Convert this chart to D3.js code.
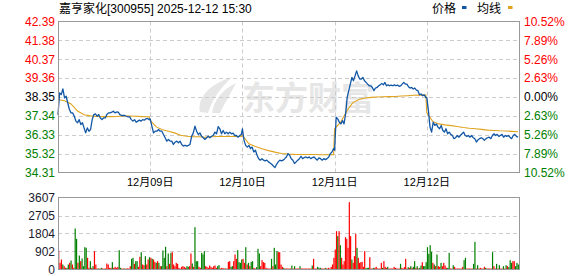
<!DOCTYPE html>
<html>
<head>
<meta charset="utf-8">
<script src="https://cdn.jsdelivr.net/npm/d3@7"></script>
<style>
  body { margin: 0; background: #fff; }
  svg { display: block; font-family: "Liberation Sans", Arial, "Noto Sans CJK SC", sans-serif; }
</style>
</head>
<body>
<div id="chart"></div>
<script>
// ---- data ----
const days = ["12-08", "12-09", "12-10", "12-11", "12-12"];
const dayLabels = ["", "12月09日", "12月10日", "12月11日", "12月12日"];
const priceTicks = [42.39, 41.38, 40.37, 39.36, 38.35, 37.34, 36.33, 35.32, 34.31];
const pctTicks = ["10.52%", "7.89%", "5.26%", "2.63%", "0.00%", "2.63%", "5.26%", "7.89%", "10.52%"];
const volTicks = [3607, 2705, 1804, 902, 0];
const prevClose = 38.35;

const price1 = [37.40,38.57,38.48,38.78,38.30,38.39,38.03,37.68,37.50,37.50,37.32,37.06,36.97,37.14,36.88,36.97,36.70,36.43,36.70,36.52,36.61,37.14,37.41,37.45,37.32,37.41,37.23,37.14,37.23,37.23,37.41,37.50,37.50,37.54,37.59,37.50,37.55,37.54,37.41,37.36,37.36,37.36,37.32,37.29,37.29,37.14,37.06,37.14,37.00,37.06,37.11,37.06,37.14,37.11,37.18,37.20,37.14];
const price2 = [37.18,36.79,36.43,36.52,36.52,36.61,36.52,36.52,36.34,36.17,35.99,36.08,35.99,35.99,35.81,35.93,35.99,35.90,35.99,35.81,35.72,35.77,35.72,35.76,35.81,36.25,36.43,36.79,36.52,36.34,36.43,36.25,36.17,36.08,36.17,36.25,36.17,36.25,36.29,36.47,36.38,36.77,36.65,36.38,36.56,36.38,36.47,36.38,36.47,36.38,36.42,36.29,36.29,36.20,36.29,36.35];
const price3 = [36.65,36.03,35.76,35.67,35.76,35.59,35.67,35.41,35.50,35.23,35.05,34.97,35.05,34.97,34.93,34.97,34.88,34.82,34.75,34.66,34.58,34.75,34.88,34.97,34.93,34.97,35.05,35.14,35.32,35.23,35.05,34.97,34.79,34.88,34.97,35.05,35.18,35.05,35.11,35.14,35.09,35.14,35.05,35.11,35.14,35.05,34.97,35.09,35.05,34.97,35.05,35.00,35.05,35.14,35.32,35.41,35.59];
const price4 = [35.50,37.27,37.18,37.00,36.91,37.09,36.91,37.45,38.33,38.69,39.04,39.40,39.22,39.48,39.75,39.48,39.31,39.31,39.40,39.22,39.13,39.04,38.95,38.95,38.86,38.69,38.83,38.86,38.95,39.00,39.08,39.00,39.13,38.95,39.00,38.95,38.99,38.95,39.00,38.95,38.99,38.92,38.95,39.04,39.13,39.04,39.04,38.90,38.83,38.86,38.78,38.83,38.72,38.69,38.47,38.51,38.42,38.46,38.33];
const price5 = [38.33,37.62,36.74,36.47,37.00,36.83,36.91,36.74,36.65,36.83,36.56,36.47,36.65,36.38,36.47,36.35,36.29,36.12,36.17,36.29,36.20,36.29,36.38,36.47,36.29,36.24,36.29,36.20,36.29,36.17,36.12,35.94,36.06,36.12,36.17,36.12,36.03,36.12,36.17,36.20,36.12,36.29,36.38,36.29,36.35,36.24,36.29,36.35,36.20,36.29,36.24,36.29,36.20,36.12,36.29,36.35,36.24,36.20];

const avg1 = [38.22,38.15,37.98,37.60,37.40,37.34,37.31,37.30,37.30,37.31,37.33,37.33,37.32,37.30,37.29];
const avg2 = [37.10,36.75,36.60,36.52,36.43,36.30,36.25,36.22,36.22,36.20,36.22,36.24,36.24,36.24,36.24,36.24];
const avg3 = [36.30,35.85,35.70,35.58,35.48,35.40,35.33,35.30,35.28,35.27,35.27,35.27,35.26,35.26,35.26];
const avg4 = [36.65,37.00,37.60,38.05,38.22,38.30,38.33,38.35,38.36,38.37,38.38,38.40,38.42,38.44,38.45,38.46];
const avg5 = [37.50,37.03,36.91,36.86,36.82,36.77,36.72,36.68,36.65,36.62,36.58,36.56,36.54,36.53,36.51,36.49];

const vol1 = [952,334,501,250,167,84,84,250,334,451,250,84,2054,1536,334,701,418,551,167,1119,1086,585,84,418,84,167,919,250,33,33,33,84,33,33,33,300,250,84,84,367,84,134,84,134,969,84,33,33,33,33,33,33,167,534,585,284,418,418,134,635,868,250,217,668,250,501,618];
const vol2 = [585,534,501,384,334,418,334,167,167,952,585,1136,167,802,284,835,868,250,167,334,284,84,33,134,167,134,84,167,134,167,802,300,134,2121,418,418,134,84,835,752,919,167,134,84,200,134,84,167,200,84,167,217,33,84,67,33,33,33,384,418,134,167,418,752,534,969,367,334,501];
const vol3 = [534,334,1119,250,334,167,384,418,84,33,117,1035,802,167,468,367,334,84,33,33,33,534,167,1086,250,919,868,868,250,134,84,33,33,33,33,33,200,50,167,33,33,33,167,33,33,33,33,33,33,33,33,200,534,50,33,134,84,84,33,33,33,84,50,84,50,134,250,585];
const vol4 = [1002,1920,1670,1920,1219,585,250,418,1620,1536,1086,3373,1670,501,334,668,1787,1086,585,334,367,384,134,919,67,84,84,618,33,33,84,84,134,33,33,33,334,84,418,134,84,134,33,33,33,33,134,84,33,33,33,284,84,33,117,534,33,117,84,167,84,134,418,84,167,33,84,200,367,167,167,367];
const vol5 = [1119,785,1219,885,334,250,167,752,167,134,334,167,334,200,84,84,835,33,50,217,134,33,33,33,33,33,134,468,585,33,33,33,33,33,284,1386,33,217,33,84,33,33,134,84,33,33,33,33,868,167,33,284,33,217,33,33,167,33,217,167,117,468,334,418,418,167,334,250];

// r = minute closed up (red), g = down (green)
const dir1 = "rrrgrrggrg" + "rrggrgrggg" + "grrgrgrrrg" + "rgrrrrrrrg" + "rrrrggrrgr" + "rrrggrggrr" + "grrgrrg";
const dir2 = "rgrrgrgrgg" + "ggrgrgrrrr" + "rrrrrrrggr" + "rgrgggrrgg" + "grrrrrrrrr" + "ggrrrrgrrr" + "ggrrrgggg";
const dir3 = "rrgrgrggrr" + "gggrrrrrrr" + "rgrgggrrrr" + "grrrrrgrgr" + "rrgrrrrrrr" + "rgrrrgggrr" + "rgrrrrrr";
const dir4 = "rrgrgrrrrr" + "rrrgrrrgrr" + "rrrrgggrrr" + "grrrrrrgrr" + "rgrrrrrrrr" + "rgrrrrrgrg" + "rggrgrggrg" + "gg";
const dir5 = "ggggrgrgrr" + "grrrrggrrg" + "rrrrrrrggr" + "rrrrggrgrr" + "rrrgrrrrgr" + "rgrgrrgrgr" + "gggrrggg";

const prices = [price1, price2, price3, price4, price5];
const avgs = [avg1, avg2, avg3, avg4, avg5];
const vols = [vol1, vol2, vol3, vol4, vol5];
const dirs = [dir1, dir2, dir3, dir4, dir5];

// ---- layout ----
const width = 578, height = 276,
      left = 58, right = 519,
      pTop = 21.5, pBottom = 172.5,
      vTop = 197.5, vBottom = 269.5;

const RED = "#ff0000", GREEN = "#008000", GRID = "#cccccc", FRAME = "#999999";

const svg = d3.select("#chart")
    .append("svg")
    .attr("width", width)
    .attr("height", height);

const x = d3.scaleBand().domain(days).range([left, right]);
const y = d3.scaleLinear().domain([34.31, 42.39]).range([pBottom, pTop]);
const yv = d3.scaleLinear().domain([0, 3607]).range([vBottom, vTop]);
const bw = x.bandwidth();

// flatten day arrays into points on the shared x axis
const pricePts = [], avgPts = [], bars = [];
days.forEach((d, k) => {
    prices[k].forEach((v, i, a) => pricePts.push([x(d) + i / (a.length - 1) * (bw - 1), v]));
    avgs[k].forEach((v, i, a) => avgPts.push([x(d) + i / (a.length - 1) * (bw - 1), v]));
    vols[k].forEach((v, i, a) => bars.push({
        x: x(d) + (i + 0.5) / a.length * bw,
        v: v,
        up: dirs[k][i] !== "g"
    }));
});

// watermark (drawn first, grid sits over it)
const wm = svg.append("g").attr("fill", "#e6e6e6");
wm.append("path").attr("d", "M200,112 C197,98 209,84 232,77 C220,88 212,100 208,113 Z");
wm.append("path").attr("d", "M212,113 C214,100 222,90 236,83 C230,95 224,104 220,113 Z");
wm.append("text")
    .attr("x", 242).attr("y", 110)
    .attr("font-size", 33)
    .attr("font-weight", 700)
    .attr("font-family", "'Noto Sans CJK SC', sans-serif")
    .text("东方财富");

// title + legend
svg.append("text")
    .attr("x", 59).attr("y", 13)
    .attr("font-size", 12)
    .attr("fill", "#000")
    .text("嘉亨家化[300955] 2025-12-12 15:30");

svg.append("text").attr("x", 432).attr("y", 13).attr("font-size", 12).text("价格");
svg.append("rect").attr("x", 462).attr("y", 6).attr("width", 4.5).attr("height", 3).attr("fill", "#1257a6");
svg.append("text").attr("x", 477).attr("y", 13).attr("font-size", 12).text("均线");
svg.append("rect").attr("x", 508).attr("y", 6).attr("width", 4.5).attr("height", 3).attr("fill", "#e0a31e");

// price grid
svg.append("g")
    .selectAll("line")
    .data(priceTicks.slice(1, -1))
    .join("line")
    .attr("x1", left).attr("x2", right)
    .attr("y1", d => Math.round(y(d)) + 0.5).attr("y2", d => Math.round(y(d)) + 0.5)
    .attr("stroke", GRID).attr("stroke-dasharray", "4,3");

svg.append("g")
    .selectAll("line")
    .data(days.slice(1))
    .join("line")
    .attr("x1", d => Math.round(x(d)) + 0.5).attr("x2", d => Math.round(x(d)) + 0.5)
    .attr("y1", pTop).attr("y2", pBottom)
    .attr("stroke", GRID).attr("stroke-dasharray", "4,3");

// volume grid
svg.append("g")
    .selectAll("line")
    .data(volTicks.slice(1, -1))
    .join("line")
    .attr("x1", left).attr("x2", right)
    .attr("y1", d => Math.round(yv(d)) + 0.5).attr("y2", d => Math.round(yv(d)) + 0.5)
    .attr("stroke", GRID).attr("stroke-dasharray", "4,3");

// volume bars
svg.append("g")
    .selectAll("rect")
    .data(bars)
    .join("rect")
    .attr("x", d => d.x - 0.6)
    .attr("width", 1.2)
    .attr("y", d => Math.min(yv(d.v), vBottom - 1))
    .attr("height", d => Math.max(1, vBottom - yv(d.v)))
    .attr("fill", d => d.up ? RED : GREEN);

// average + price lines
const line = d3.line().x(d => d[0]).y(d => y(d[1]));

svg.append("path")
    .attr("d", line(avgPts))
    .attr("fill", "none")
    .attr("stroke", "#e0a31e")
    .attr("stroke-width", 1.1);

svg.append("path")
    .attr("d", line(pricePts))
    .attr("fill", "none")
    .attr("stroke", "#1257a6")
    .attr("stroke-width", 1.3)
    .attr("stroke-linejoin", "round");

// frames
svg.append("rect")
    .attr("x", left + 0.5).attr("y", pTop)
    .attr("width", right - left).attr("height", pBottom - pTop)
    .attr("fill", "none").attr("stroke", FRAME);

svg.append("rect")
    .attr("x", left + 0.5).attr("y", vTop)
    .attr("width", right - left).attr("height", vBottom - vTop)
    .attr("fill", "none").attr("stroke", FRAME);

// axis labels
const tickColor = v => v > prevClose ? RED : v < prevClose ? GREEN : "#000";

svg.append("g")
    .selectAll("text")
    .data(priceTicks)
    .join("text")
    .attr("x", 55).attr("y", d => y(d))
    .attr("dy", "0.36em")
    .attr("text-anchor", "end")
    .attr("font-size", 12)
    .attr("fill", tickColor)
    .text(d => d.toFixed(2));

svg.append("g")
    .selectAll("text")
    .data(pctTicks)
    .join("text")
    .attr("x", 524).attr("y", (d, i) => y(priceTicks[i]))
    .attr("dy", "0.36em")
    .attr("font-size", 12)
    .attr("fill", (d, i) => tickColor(priceTicks[i]))
    .text(d => d);

svg.append("g")
    .selectAll("text")
    .data(volTicks)
    .join("text")
    .attr("x", 55).attr("y", d => yv(d))
    .attr("dy", "0.36em")
    .attr("text-anchor", "end")
    .attr("font-size", 12)
    .attr("fill", "#1a1a2e")
    .text(d => d);

svg.append("g")
    .selectAll("text")
    .data(days.slice(1))
    .join("text")
    .attr("x", d => x(d))
    .attr("y", 186)
    .attr("text-anchor", "middle")
    .attr("font-size", 11)
    .attr("fill", "#000")
    .text(d => dayLabels[days.indexOf(d)]);
</script>
</body>
</html>
